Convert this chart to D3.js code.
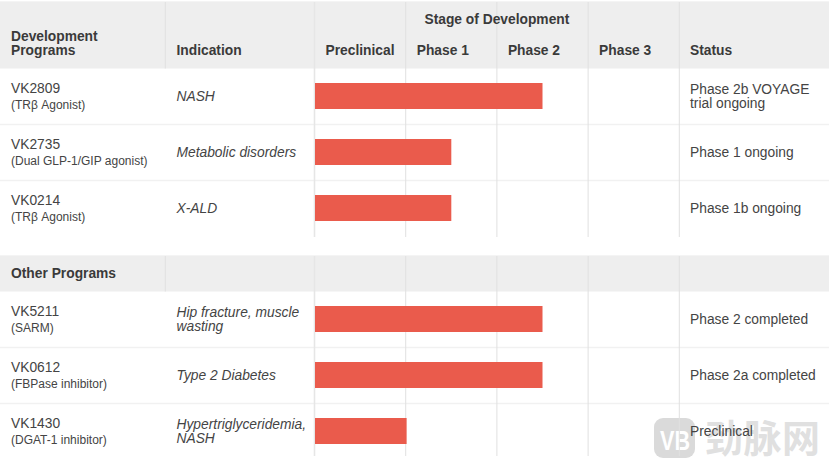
<!DOCTYPE html>
<html>
<head>
<meta charset="utf-8">
<script src="https://cdnjs.cloudflare.com/ajax/libs/d3/7.8.5/d3.min.js"></script>
<style>
  html, body { margin: 0; padding: 0; background: #fff; }
  svg { display: block; }
  text { font-family: "Liberation Sans", Arial, sans-serif; fill: #444; }
</style>
</head>
<body>
<div id="chart"></div>
<script>
// stage columns, a bar length is counted in these columns (1.5 = halfway through Phase 1)
const stages = ['Preclinical', 'Phase 1', 'Phase 2', 'Phase 3'];

const devCodes = ['VK2809', 'VK2735', 'VK0214'];
const devTargets = ['(TRβ Agonist)', '(Dual GLP-1/GIP agonist)', '(TRβ Agonist)'];
const devIndications = [['NASH'], ['Metabolic disorders'], ['X-ALD']];
const devProgress = [2.5, 1.5, 1.5];
const devStatus = [['Phase 2b VOYAGE', 'trial ongoing'], ['Phase 1 ongoing'], ['Phase 1b ongoing']];

const otherCodes = ['VK5211', 'VK0612', 'VK1430'];
const otherTargets = ['(SARM)', '(FBPase inhibitor)', '(DGAT-1 inhibitor)'];
const otherIndications = [['Hip fracture, muscle', 'wasting'], ['Type 2 Diabetes'], ['Hypertriglyceridemia,', 'NASH']];
const otherProgress = [2.5, 2.5, 1.01];
const otherStatus = [['Phase 2 completed'], ['Phase 2a completed'], ['Preclinical']];

const width = 830;
const height = 469;

const svg = d3.select('#chart').append('svg')
    .attr('width', width)
    .attr('height', height);

// x for the stage columns
const xStage = d3.scaleLinear().domain([0, stages.length]).range([314.5, 679.3]);

const colLines = [165.3].concat(d3.range(0, stages.length + 1).map(d => xStage(d)));
const textX = { code: 11, indication: 176.5, status: 690 };

// watermark in the corner, goes first so the table stays readable over it
const mark = svg.append('g');
mark.append('rect')
    .attr('x', 654).attr('y', 418)
    .attr('width', 41).attr('height', 40)
    .attr('rx', 9)
    .attr('fill', '#dadada');
mark.append('text')
    .attr('x', 660).attr('y', 450)
    .attr('textLength', 30)
    .attr('lengthAdjust', 'spacingAndGlyphs')
    .style('font-size', '28px')
    .style('font-weight', 'bold')
    .style('fill', '#fff')
    .text('VB');
mark.append('text')
    .attr('x', 705).attr('y', 452)
    .attr('textLength', 115)
    .style('font-family', '"Noto Sans CJK SC"')
    .style('font-size', '38px')
    .style('font-weight', 'bold')
    .style('fill', '#e0e0e0')
    .text('劲脉网');

function lines(parent, rows, x, yMid, style) {
    // centred block of text lines with 14px leading
    rows.forEach((t, i) => {
        const el = parent.append('text')
            .attr('x', x)
            .attr('y', yMid + 5 + (i - (rows.length - 1) / 2) * 14)
            .style('font-size', '13.8px')
            .text(t);
        if (style) el.style('font-style', style);
    });
}

function drawGroup(top, headH, bodyBottom, codes, targets, indications, progress, status) {
    const g = svg.append('g');
    const bodyTop = top + headH;
    const yRow = d3.scaleBand()
        .domain(codes)
        .range([bodyTop, bodyTop + 56 * codes.length]);

    // header background
    g.append('rect')
        .attr('x', 0).attr('y', top)
        .attr('width', 829).attr('height', headH - 0.5)
        .attr('fill', '#eeeeee');
    g.append('line')
        .attr('x1', 0).attr('x2', 829)
        .attr('y1', top - 0.5).attr('y2', top - 0.5)
        .attr('stroke', '#f4f4f4');

    // row separators
    g.selectAll('.sep')
        .data(codes.slice(1))
        .enter()
        .append('line')
        .attr('x1', 0).attr('x2', 829)
        .attr('y1', d => yRow(d) - 0.5)
        .attr('y2', d => yRow(d) - 0.5)
        .attr('stroke', '#f1f1f1')
        .attr('stroke-width', 1.6);

    // column lines, the first one only runs through the header
    colLines.forEach((x, i) => {
        g.append('line')
            .attr('x1', x).attr('x2', x)
            .attr('y1', top)
            .attr('y2', i === 0 ? bodyTop - 0.5 : bodyBottom)
            .attr('stroke', i === 1 ? '#e6e6e6' : '#e0e0e0')
            .attr('stroke-width', i === 1 ? 1.6 : 1);
    });

    // bars sit on top of the column lines
    g.selectAll('.bar')
        .data(codes)
        .enter()
        .append('rect')
        .attr('x', xStage(0) + 0.5)
        .attr('y', d => yRow(d) + 14)
        .attr('width', (d, i) => xStage(progress[i]) - xStage(0) - 0.5)
        .attr('height', 26)
        .attr('fill', '#ea5b4c');

    // body text
    codes.forEach((code, i) => {
        const y0 = yRow(code);
        g.append('text').attr('x', textX.code).attr('y', y0 + 24)
            .style('font-size', '13.8px').text(code);
        g.append('text').attr('x', textX.code).attr('y', y0 + 40)
            .style('font-size', '12px').text(targets[i]);
        lines(g, indications[i], textX.indication, y0 + 27, 'italic');
        lines(g, status[i], textX.status, y0 + 27);
    });
    return g;
}

function headLabel(x, y, label, anchor) {
    svg.append('text')
        .attr('x', x).attr('y', y)
        .attr('text-anchor', anchor || 'start')
        .style('font-size', '13.8px')
        .style('font-weight', 'bold')
        .style('fill', '#3a3a3a')
        .text(label);
}

drawGroup(2, 67, 237, devCodes, devTargets, devIndications, devProgress, devStatus);
drawGroup(256, 36, 456, otherCodes, otherTargets, otherIndications, otherProgress, otherStatus);

// first header
headLabel(11, 41, 'Development');
headLabel(11, 55, 'Programs');
headLabel(textX.indication, 55, 'Indication');
headLabel(xStage(2), 24, 'Stage of Development', 'middle');
stages.forEach((s, i) => headLabel(xStage(i) + 11, 55, s));
headLabel(textX.status, 55, 'Status');

// second header
headLabel(11, 278, 'Other Programs');
</script>
</body>
</html>
